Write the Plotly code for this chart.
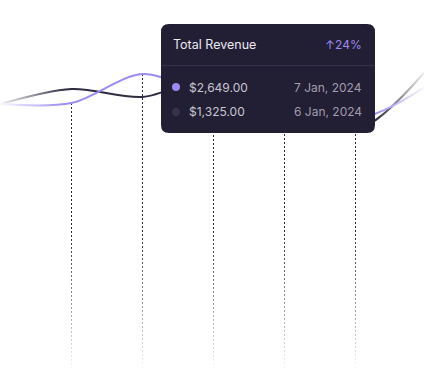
import plotly.graph_objects as go

W, H = 424, 390

# ---- data ----
days = [0, 1, 2, 3, 4, 5, 6]
current_revenue = [2860, 2870, 3160, 2950, 3080, 2720, 3040]   # purple series
previous_revenue = [2860, 3010, 2930, 3120, 2880, 2600, 3200]  # dark series
drop_days = [1, 2, 3, 4, 5]
tooltip_title = "Total Revenue"
tooltip_change = "↑24%"
tooltip_rows = [("$2,649.00", "7 Jan, 2024"), ("$1,325.00", "6 Jan, 2024")]

PURPLE = "#9d89f0"
DARK = "#2f2b40"
BG_TIP = "#221e33"

fig = go.Figure()

base_val = 220
for d in drop_days:
    fig.add_trace(go.Scatter(
        x=[d, d], y=[current_revenue[d], base_val], mode="lines",
        line=dict(color="#2a263b", width=1, dash="2px,2px"),
        hoverinfo="skip", showlegend=False))

fig.add_trace(go.Scatter(x=days, y=previous_revenue, mode="lines",
                         line=dict(color=DARK, width=2, shape="spline", smoothing=0.9),
                         hoverinfo="skip", showlegend=False))
fig.add_trace(go.Scatter(x=days, y=current_revenue, mode="lines",
                         line=dict(color=PURPLE, width=2, shape="spline", smoothing=0.9),
                         hoverinfo="skip", showlegend=False))

OFF = 0.5 / 71.0
xmax = W / 71.0
def px2x(px):
    return px / 71.0 - OFF
def py2y(py):
    return (H - py) * 10

fig.add_trace(go.Scatter(
    x=[px2x(-2), px2x(66), px2x(66), px2x(-2), px2x(-2)],
    y=[py2y(60), py2y(60), py2y(118), py2y(118), py2y(60)],
    fill="toself", mode="none", hoverinfo="skip", showlegend=False,
    fillgradient=dict(type="horizontal", start=px2x(0), stop=px2x(66),
                      colorscale=[[0, "rgba(255,255,255,0.95)"], [1, "rgba(255,255,255,0)"]])))
fig.add_trace(go.Scatter(
    x=[px2x(376), px2x(430), px2x(430), px2x(376), px2x(376)],
    y=[py2y(40), py2y(40), py2y(132), py2y(132), py2y(40)],
    fill="toself", mode="none", hoverinfo="skip", showlegend=False,
    fillgradient=dict(type="horizontal", start=px2x(376), stop=px2x(428),
                      colorscale=[[0, "rgba(255,255,255,0)"], [1, "rgba(255,255,255,1)"]])))
fig.add_trace(go.Scatter(
    x=[px2x(40), px2x(400), px2x(400), px2x(40), px2x(40)],
    y=[py2y(230), py2y(230), py2y(372), py2y(372), py2y(230)],
    fill="toself", mode="none", hoverinfo="skip", showlegend=False,
    fillgradient=dict(type="vertical", start=py2y(372), stop=py2y(230),
                      colorscale=[[0, "rgba(255,255,255,1)"], [1, "rgba(255,255,255,0)"]])))

def X(px): return px / W
def Y(py): return 1 - py / H

x0, x1, y0, y1, r = 161, 375, 24, 133, 8
path = (f"M {X(x0+r)},{Y(y0)} L {X(x1-r)},{Y(y0)} Q {X(x1)},{Y(y0)} {X(x1)},{Y(y0+r)} "
        f"L {X(x1)},{Y(y1-r)} Q {X(x1)},{Y(y1)} {X(x1-r)},{Y(y1)} "
        f"L {X(x0+r)},{Y(y1)} Q {X(x0)},{Y(y1)} {X(x0)},{Y(y1-r)} "
        f"L {X(x0)},{Y(y0+r)} Q {X(x0)},{Y(y0)} {X(x0+r)},{Y(y0)} Z")
shapes = [
    dict(type="path", xref="paper", yref="paper", path=path,
         fillcolor=BG_TIP, line=dict(width=0), layer="above"),
    dict(type="line", xref="paper", yref="paper", x0=X(x0), x1=X(x1), y0=Y(65.5), y1=Y(65.5),
         line=dict(color="#36324a", width=1), layer="above"),
    dict(type="circle", xref="paper", yref="paper", x0=X(172), x1=X(180), y0=Y(83), y1=Y(91),
         fillcolor=PURPLE, line=dict(width=0), layer="above"),
    dict(type="circle", xref="paper", yref="paper", x0=X(172), x1=X(180), y0=Y(108), y1=Y(116),
         fillcolor="#35314a", line=dict(width=0), layer="above"),
]

FONT = "Inter"
ann = [
    dict(text=tooltip_title, x=X(171), y=Y(44), xanchor="left", yanchor="middle",
         font=dict(family=FONT, size=12.5, color="#ebe9f2")),
    dict(text=tooltip_change, x=X(364), y=Y(44), xanchor="right", yanchor="middle",
         font=dict(family=FONT, size=12, color="#9d89f0")),
]
for i, (val, date) in enumerate(tooltip_rows):
    yy = 87 + i * 25
    ann.append(dict(text=val, x=X(187), y=Y(yy), xanchor="left", yanchor="middle",
                    font=dict(family=FONT, size=12, color="#c9c6d3")))
    ann.append(dict(text=date, x=X(364), y=Y(yy), xanchor="right", yanchor="middle",
                    font=dict(family=FONT, size=12, color="#a19dae")))
for a in ann:
    a.update(xref="paper", yref="paper", showarrow=False)

fig.update_layout(
    width=W, height=H, margin=dict(l=0, r=0, t=0, b=0),
    paper_bgcolor="white", plot_bgcolor="white",
    xaxis=dict(range=[-OFF, xmax - OFF], visible=False, fixedrange=True),
    yaxis=dict(range=[0, H * 10], visible=False, fixedrange=True),
    shapes=shapes, annotations=ann, showlegend=False, hovermode=False,
)

fig.write_html("out.html", config={"displayModeBar": False},
               post_script="document.body.style.margin='0';document.body.style.overflow='hidden';")
